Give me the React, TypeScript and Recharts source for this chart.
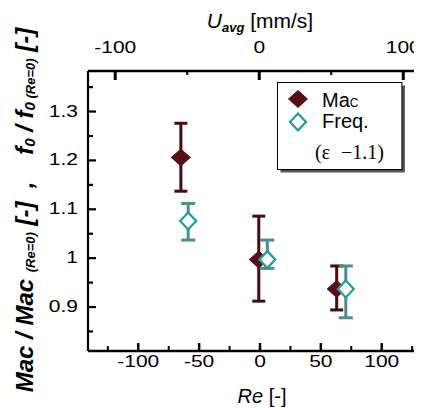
import React from 'react';
import { ScatterChart, Scatter, XAxis, YAxis, ErrorBar, Legend } from 'recharts';

// ---------- data ----------
const macRe = [-65, -1, 63];
const macRatio = [1.206, 0.997, 0.937];
const macLow = [1.137, 0.912, 0.894];
const macHigh = [1.276, 1.086, 0.984];

const freqRe = [-59, 6, 70.5];
const freqRatio = [1.076, 0.997, 0.937];
const freqLow = [1.037, 0.979, 0.878];
const freqHigh = [1.112, 1.037, 0.984];

const reTicks = [-125, -100, -75, -50, -25, 0, 25, 50, 75, 100, 125];
const reTickLabels = [-100, -50, 0, 50, 100];
const uTicks = [-100, -50, 0, 50, 100];
const uTickLabels = [-100, 0, 100];
const yTicks = [0.85, 0.9, 0.95, 1, 1.05, 1.1, 1.15, 1.2, 1.25, 1.3, 1.35];
const yTickLabels = [0.9, 1, 1.1, 1.2, 1.3];

const reDomain = [-141.3, 133.1];
const uDomain = [-118.9, 113];
const yDomain = [0.81, 1.383];

// ---------- styles ----------
const FONT = "'Liberation Sans', Arial, sans-serif";
const SERIF = "'Liberation Serif', 'Times New Roman', serif";
const MAC_FILL = '#560f15';
const MAC_BAR = '#480c10';
const FREQ_STROKE = '#1f9c9c';
const FREQ_BAR = '#4c8e8e';

const build = (xs: number[], ys: number[], lo: number[], hi: number[]) =>
  xs.map((x, i) => ({ re: x, ratio: ys[i], err: [ys[i] - lo[i], hi[i] - ys[i]] }));

const macData = build(macRe, macRatio, macLow, macHigh);
const freqData = build(freqRe, freqRatio, freqLow, freqHigh);

const MacDiamond = ({ cx, cy }: any) => (
  <polygon
    points={`${cx},${cy - 8.5} ${cx + 9.5},${cy} ${cx},${cy + 8.5} ${cx - 9.5},${cy}`}
    fill={MAC_FILL}
    stroke={MAC_FILL}
    strokeWidth={1}
  />
);

const FreqDiamond = ({ cx, cy }: any) => (
  <polygon
    points={`${cx},${cy - 8.5} ${cx + 8},${cy} ${cx},${cy + 8.5} ${cx - 8},${cy}`}
    fill="#fff"
    stroke={FREQ_STROKE}
    strokeWidth={2.2}
  />
);

const BottomTick = ({ x, y, payload }: any) => {
  const v = payload.value;
  const major = reTickLabels.includes(v);
  return (
    <g>
      <line x1={x} x2={x} y1={y} y2={y - (major ? 8 : 5)} stroke="#000" strokeWidth={major ? 2.5 : 2} />
      {major && (
        <text transform={`translate(${x},${y + 16}) scale(1,0.8)`} textAnchor="middle" fontSize={21} fontFamily={FONT} fill="#000">
          {String(v)}
        </text>
      )}
    </g>
  );
};

const TopTick = ({ x, y, payload }: any) => {
  const v = payload.value;
  const major = uTickLabels.includes(v);
  return (
    <g>
      <line x1={x} x2={x} y1={y} y2={y + (major ? 9 : 4)} stroke="#000" strokeWidth={major ? 3 : 2} />
      {major && (
        <text transform={`translate(${x},${y - 18}) scale(1,0.8)`} textAnchor="middle" fontSize={21} fontFamily={FONT} fill="#000">
          {String(v)}
        </text>
      )}
    </g>
  );
};

const LeftTick = ({ x, y, payload }: any) => {
  const v = payload.value;
  const major = yTickLabels.some((t) => Math.abs(t - v) < 1e-9);
  return (
    <g>
      <line x1={x} x2={x + (major ? 8 : 5)} y1={y} y2={y} stroke="#000" strokeWidth={2.2} />
      {major && (
        <text transform={`translate(${x - 10},${y + 5}) scale(1,0.8)`} textAnchor="end" fontSize={21} fontFamily={FONT} fill="#000">
          {String(v)}
        </text>
      )}
    </g>
  );
};

const TopLabel = ({ viewBox }: any) => {
  const cx = viewBox.x + viewBox.width / 2 + 5;
  return (
    <text x={cx} y={20} textAnchor="middle" fontSize={21} fontFamily={FONT} fill="#000">
      <tspan fontStyle="italic">U</tspan>
      <tspan fontSize={13} fontWeight="bold" fontStyle="italic" dy={4}>avg</tspan>
      <tspan dy={-4}> [mm/s]</tspan>
    </text>
  );
};

const BottomLabel = ({ viewBox }: any) => {
  const cx = viewBox.x + viewBox.width / 2 + 7;
  return (
    <text x={cx} y={viewBox.y + 52} textAnchor="middle" fontSize={20} fontFamily={FONT} fill="#000">
      <tspan fontStyle="italic">Re</tspan>
      <tspan> [-]</tspan>
    </text>
  );
};

const LeftLabel = ({ viewBox }: any) => {
  const x = 25;
  const y = viewBox.y + viewBox.height / 2 - 1;
  return (
    <text
      x={x}
      y={y}
      transform={`rotate(-90, ${x}, ${y})`}
      textAnchor="middle"
      fontSize={24}
      fontWeight="bold"
      fontStyle="italic"
      fontFamily={FONT}
      fill="#000"
      xmlSpace="preserve"
    >
      <tspan>Mac / Mac </tspan>
      <tspan fontSize={13} dy={2}>(Re=0)</tspan>
      <tspan dy={-2}> [-]  ,    f</tspan>
      <tspan fontSize={15} dy={2}>0</tspan>
      <tspan dy={-2}> / f</tspan>
      <tspan fontSize={15} dy={2}>0</tspan>
      <tspan fontSize={13}> (Re=0)</tspan>
      <tspan dy={-2}> [-]</tspan>
    </text>
  );
};

const LegendBox = () => (
  <svg width={130} height={93} style={{ display: 'block', overflow: 'visible' }}>
    <rect x={3.5} y={3.5} width={124.4} height={87} fill="#555" />
    <rect x={0.5} y={0.5} width={124.4} height={87} fill="#fff" stroke="#000" strokeWidth={1} />
    <MacDiamond cx={21} cy={17} />
    <text x={45} y={25} fontSize={20} fontFamily={FONT} fill="#000">
      Ma<tspan fontSize={12}>C</tspan>
    </text>
    <FreqDiamond cx={21} cy={40} />
    <text x={45} y={46} fontSize={20} fontFamily={FONT} fill="#000">Freq.</text>
    <text y={77} fontSize={20} fontFamily={SERIF} fill="#000">
      <tspan x={38}>(ε</tspan>
      <tspan x={64}>−1.1)</tspan>
    </text>
  </svg>
);

export default function App() {
  return (
    <div style={{ position: 'relative', width: 414, height: 402, overflow: 'hidden' }}>
      <ScatterChart width={414} height={402} margin={{ top: 0, right: 0, bottom: 0, left: 0 }}>
        <XAxis
          xAxisId="top"
          orientation="top"
          type="number"
          dataKey="re"
          domain={uDomain}
          ticks={uTicks}
          interval={0}
          allowDataOverflow
          height={63}
          tickSize={0}
          tickMargin={0}
          tickLine={false}
          axisLine={{ stroke: '#000', strokeWidth: 2.5 }}
          tick={(p: any) => <TopTick {...p} />}
          label={<TopLabel />}
        />
        <XAxis
          xAxisId="bottom"
          orientation="bottom"
          type="number"
          dataKey="re"
          domain={reDomain}
          ticks={reTicks}
          interval={0}
          allowDataOverflow
          height={59}
          tickSize={0}
          tickMargin={0}
          tickLine={false}
          axisLine={{ stroke: '#000', strokeWidth: 2.5 }}
          tick={(p: any) => <BottomTick {...p} />}
          label={<BottomLabel />}
        />
        <YAxis
          yAxisId="left"
          type="number"
          dataKey="ratio"
          domain={yDomain}
          ticks={yTicks}
          interval={0}
          allowDataOverflow
          width={80}
          tickSize={0}
          tickMargin={0}
          tickLine={false}
          axisLine={{ stroke: '#000', strokeWidth: 2.2 }}
          tick={(p: any) => <LeftTick {...p} />}
          label={<LeftLabel />}
        />
        <Legend
          layout="vertical"
          align="center"
          verticalAlign="middle"
          content={<LegendBox />}
          wrapperStyle={{ position: 'absolute', left: 269, top: 74, width: 130, height: 93 }}
        />
        <Scatter
          name="Mac"
          data={macData}
          xAxisId="bottom"
          yAxisId="left"
          isAnimationActive={false}
          shape={(p: any) => <MacDiamond cx={p.cx} cy={p.cy} />}
        >
          <ErrorBar dataKey="err" direction="y" width={6.5} strokeWidth={3} stroke={MAC_BAR} isAnimationActive={false} />
        </Scatter>
        <Scatter
          name="Freq."
          data={freqData}
          xAxisId="bottom"
          yAxisId="left"
          isAnimationActive={false}
          shape={(p: any) => <FreqDiamond cx={p.cx} cy={p.cy} />}
        >
          <ErrorBar dataKey="err" direction="y" width={7} strokeWidth={3} stroke={FREQ_BAR} isAnimationActive={false} />
        </Scatter>
      </ScatterChart>
    </div>
  );
}
